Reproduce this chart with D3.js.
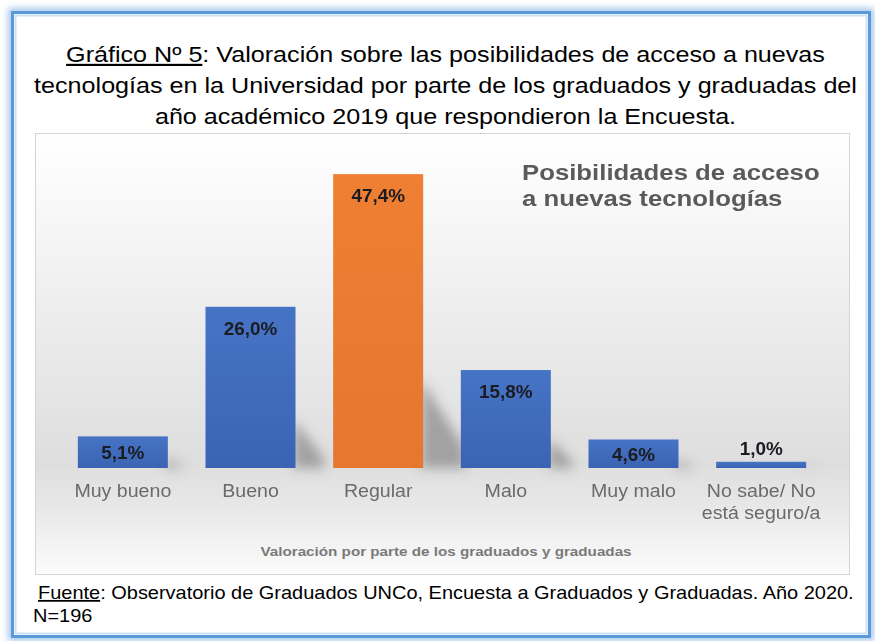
<!DOCTYPE html>
<html>
<head>
<meta charset="utf-8">
<script src="https://cdn.jsdelivr.net/npm/d3@7"></script>
<style>
  html, body { margin: 0; padding: 0; background: #ffffff; }
  svg { display: block; }
</style>
</head>
<body>
<div id="chart"></div>
<script>
// ---- data ----
const categories = ["Muy bueno", "Bueno", "Regular", "Malo", "Muy malo", "No sabe/ No está seguro/a"];
const values = [5.1, 26.0, 47.4, 15.8, 4.6, 1.0];
const valueLabels = ["5,1%", "26,0%", "47,4%", "15,8%", "4,6%", "1,0%"];
const highlight = [false, false, true, false, false, false];
const headerLines = [
  ["Gráfico Nº 5", ": Valoración sobre las posibilidades de acceso a nuevas"],
  ["", "tecnologías en la Universidad por parte de los graduados y graduadas del"],
  ["", "año académico 2019 que respondieron la Encuesta."]
];
const chartTitleLines = ["Posibilidades de acceso", "a nuevas tecnologías"];
const axisTitle = "Valoración por parte de los graduados y graduadas";
const sourceLines = [
  ["Fuente", ": Observatorio de Graduados UNCo, Encuesta a Graduados y Graduadas. Año 2020."],
  ["", "N=196"]
];

// ---- layout ----
const W = 875, H = 641;
const FONT = "'Liberation Sans', Arial, Helvetica, sans-serif";
const SX = 1.12; // horizontal stretch of the embedded chart image text

const svg = d3.select("#chart").append("svg").attr("width", W).attr("height", H);
const defs = svg.append("defs");

const glow = defs.append("filter").attr("id", "glow").attr("x", "-5%").attr("y", "-5%").attr("width", "110%").attr("height", "110%");
glow.append("feGaussianBlur").attr("stdDeviation", 3);
const sh = defs.append("filter").attr("id", "shadow").attr("x", "-50%").attr("y", "-50%").attr("width", "200%").attr("height", "200%");
sh.append("feGaussianBlur").attr("stdDeviation", 6);

const bg = defs.append("linearGradient").attr("id", "bg").attr("x1", 0).attr("y1", 0).attr("x2", 0).attr("y2", 1);
[[0, "#ffffff"], [0.1, "#fbfbfb"], [0.45, "#ebebeb"], [0.75, "#dedede"], [0.86, "#e9e9e9"], [1, "#fcfcfc"]]
  .forEach(([o, c]) => bg.append("stop").attr("offset", o).attr("stop-color", c));

const gBlue = defs.append("linearGradient").attr("id", "gBlue").attr("x1", 0).attr("y1", 0).attr("x2", 0).attr("y2", 1);
gBlue.append("stop").attr("offset", 0).attr("stop-color", "#4674c5");
gBlue.append("stop").attr("offset", 1).attr("stop-color", "#3b63b3");
const gOrange = defs.append("linearGradient").attr("id", "gOrange").attr("x1", 0).attr("y1", 0).attr("x2", 0).attr("y2", 1);
gOrange.append("stop").attr("offset", 0).attr("stop-color", "#ee7f33");
gOrange.append("stop").attr("offset", 1).attr("stop-color", "#e5772e");

// ---- outer frame ----
svg.append("rect").attr("x", 12.5).attr("y", 12.5).attr("width", 857).attr("height", 624)
  .attr("fill", "none").attr("stroke", "#a8c9ee").attr("stroke-width", 9).attr("filter", "url(#glow)");
svg.append("rect").attr("x", 12.5).attr("y", 12.5).attr("width", 857).attr("height", 624)
  .attr("fill", "#ffffff").attr("stroke", "#5b9ad9").attr("stroke-width", 3);
svg.append("rect").attr("x", 15.5).attr("y", 15.5).attr("width", 851).attr("height", 618)
  .attr("fill", "none").attr("stroke", "#cde1f6").attr("stroke-width", 2);

// ---- header ----
const header = svg.append("g").attr("transform", "translate(445.5,0) scale(1.17,1)")
  .append("text").attr("font-family", FONT).attr("font-size", 21.5)
  .attr("fill", "#000").attr("text-anchor", "middle");
headerLines.forEach((ln, i) => {
  const t = header.append("tspan").attr("x", 0).attr("y", 62 + i * 31);
  if (ln[0]) t.append("tspan").style("text-decoration", "underline").text(ln[0]);
  t.append("tspan").text(ln[1]);
});

// ---- chart box ----
const box = { x: 35.5, y: 133.5, w: 814, h: 441 };
svg.append("rect").attr("x", box.x).attr("y", box.y).attr("width", box.w).attr("height", box.h)
  .attr("fill", "url(#bg)").attr("stroke", "#d4d4d4").attr("stroke-width", 1);

// scales
const x = d3.scaleBand().domain(categories).range([59, 825]).paddingInner(0.295).paddingOuter(0.1475);
const y = d3.scaleLinear().domain([0, 50]).range([468, 158]);
const base = y(0);

const data = categories.map((c, i) => ({ c, v: values[i], label: valueLabels[i], hl: highlight[i] }));

// shadows
svg.append("g").attr("filter", "url(#shadow)").selectAll("path").data(data).join("path")
  .attr("d", d => {
    const x1 = x(d.c) + x.bandwidth();
    const h = base - y(d.v);
    const pts = [[x1 - 2, base - 0.3 * h], [x1 + 10 + 0.1 * h, base - 0.08 * h], [x1 + 14 + 0.1 * h, base], [x1 - 2, base]];
    return d3.line()(pts) + "Z";
  })
  .attr("fill", "#6f6f6f").attr("opacity", 0.55);

// bars
svg.append("g").selectAll("rect").data(data).join("rect")
  .attr("x", d => x(d.c)).attr("width", x.bandwidth())
  .attr("y", d => y(d.v)).attr("height", d => base - y(d.v))
  .attr("fill", d => d.hl ? "url(#gOrange)" : "url(#gBlue)");

// value labels
svg.append("g").selectAll("g").data(data).join("g")
  .attr("transform", d => {
    const top = y(d.v), h = base - top;
    let ly;
    if (h < 20) ly = top - 7;
    else ly = Math.min(top + 28, (top + base) / 2 + 7);
    return `translate(${x(d.c) + x.bandwidth() / 2},${ly}) scale(1.05,1)`;
  })
  .append("text").attr("text-anchor", "middle").attr("font-family", FONT)
  .attr("font-weight", "bold").attr("font-size", 18).attr("fill", "#1b1b22")
  .text(d => d.label);

// category axis
const axis = svg.append("g").attr("transform", `translate(0,${base})`)
  .call(d3.axisBottom(x).tickSize(0).tickPadding(0));
axis.select(".domain").remove();
axis.selectAll(".tick text").each(function (d) {
  const t = d3.select(this);
  t.text(null).attr("font-family", FONT).attr("font-size", 17.5).attr("fill", "#6a6a6a")
    .attr("dy", null).attr("y", 29).attr("transform", `scale(${SX},1)`);
  const words = d.split(" ");
  let lines = [], cur = [];
  const probe = svg.append("text").attr("font-family", FONT).attr("font-size", 17.5);
  words.forEach(w => {
    const test = cur.concat(w).join(" ");
    probe.text(test);
    if (cur.length && probe.node().getComputedTextLength() * SX > 130) { lines.push(cur.join(" ")); cur = [w]; }
    else cur.push(w);
  });
  lines.push(cur.join(" "));
  probe.remove();
  lines.forEach((l, i) => t.append("tspan").attr("x", 0).attr("y", 29 + i * 22).text(l));
});

// axis title
svg.append("g").attr("transform", `translate(${(x.range()[0] + x.range()[1]) / 2 + 4},556) scale(${SX},1)`)
  .append("text").attr("text-anchor", "middle").attr("font-family", FONT).attr("font-weight", "bold")
  .attr("font-size", 13.6).attr("fill", "#7a7a7a").text(axisTitle);

// chart title
const ct = svg.append("g").attr("transform", `translate(522,0) scale(${SX},1)`)
  .append("text").attr("font-family", FONT).attr("font-weight", "bold").attr("font-size", 23).attr("fill", "#5a5a5a");
chartTitleLines.forEach((l, i) => ct.append("tspan").attr("x", 0).attr("y", 180 + i * 26).text(l));

// ---- source ----
const SXS = 1.11;
const src = svg.append("g").attr("transform", `translate(38,0) scale(${SXS},1)`)
  .append("text").attr("font-family", FONT).attr("font-size", 18).attr("fill", "#000");
sourceLines.forEach((ln, i) => {
  const t = src.append("tspan").attr("x", i === 0 ? 0 : -5 / SXS).attr("y", 599 + i * 23);
  if (ln[0]) t.append("tspan").style("text-decoration", "underline").text(ln[0]);
  t.append("tspan").text(ln[1]);
});
</script>
</body>
</html>
